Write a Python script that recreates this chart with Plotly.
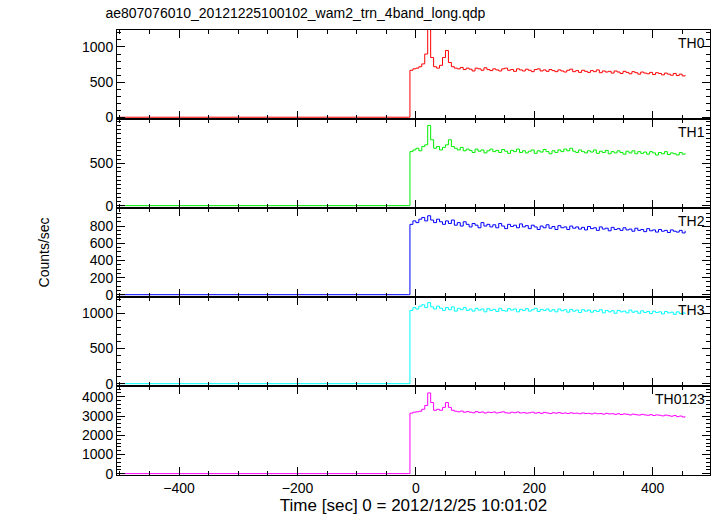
import numpy as np
import plotly.graph_objects as go
from plotly.subplots import make_subplots

# time bins (sec); the detector is off before ~-13 s
t_pre = [-500, -13]
t_on = list(np.arange(-10, 456, 5))

th0 = [670, 690, 700, 720, 760, 900, 1250, 850, 720, 700,
       740, 850, 950, 780, 720, 700, 690, 710, 680, 700,
       685, 660, 700, 690, 670, 705, 680, 665, 690, 675,
       660, 690, 700, 670, 680, 655, 690, 675, 660, 685,
       670, 650, 680, 690, 660, 675, 655, 680, 665, 650,
       675, 660, 645, 670, 685, 650, 665, 640, 670, 655,
       640, 665, 650, 675, 635, 660, 645, 655, 630, 660,
       645, 625, 655, 640, 620, 650, 635, 615, 645, 630,
       620, 640, 610, 635, 625, 605, 630, 615, 600, 625,
       595, 615, 590, 600]
th1 = [640, 660, 680, 650, 700, 720, 950, 780, 680, 700,
       660, 690, 720, 780, 700, 680, 660, 690, 650, 670,
       655, 630, 670, 645, 660, 625, 650, 670, 640, 655,
       630, 665, 645, 620, 655, 640, 670, 630, 650, 625,
       645, 660, 620, 650, 635, 665, 640, 615, 650, 630,
       660, 640, 670, 650, 680, 645, 630, 660, 640, 625,
       650, 635, 660, 620, 645, 630, 655, 615, 640, 625,
       650, 630, 610, 645, 625, 650, 615, 640, 620, 635,
       610, 640, 625, 600, 630, 615, 640, 605, 625, 615,
       600, 630, 610, 620]
th2 = [820, 860, 840, 880, 900, 860, 920, 870, 840, 880,
       850, 820, 860, 830, 870, 810, 840, 800, 850, 820,
       790, 830, 810, 780, 840, 800, 820, 790, 815, 780,
       830, 800, 770, 820, 795, 810, 780, 825, 790, 805,
       770, 810, 790, 760, 800, 780, 815, 775, 795, 760,
       805, 780, 790, 760, 800, 775, 790, 765, 785, 755,
       795, 770, 780, 750, 790, 765, 775, 745, 785, 760,
       770, 750, 780, 755, 765, 740, 775, 750, 760, 735,
       770, 745, 755, 730, 760, 740, 750, 725, 755, 740,
       730, 750, 720, 745]
th3 = [1040, 1080, 1060, 1100, 1120, 1080, 1150, 1090, 1060, 1100,
       1070, 1040, 1080, 1050, 1090, 1030, 1070, 1050, 1080, 1040,
       1060, 1030, 1070, 1045, 1060, 1020, 1065, 1040, 1055, 1025,
       1070, 1040, 1030, 1065, 1045, 1060, 1020, 1055, 1040, 1065,
       1030, 1050, 1070, 1025, 1055, 1040, 1060, 1030, 1050, 1020,
       1060, 1035, 1050, 1015, 1055, 1030, 1045, 1010, 1050, 1030,
       1045, 1015, 1040, 1025, 1050, 1005, 1040, 1020, 1035, 1000,
       1040, 1020, 1030, 1005, 1045, 1015, 1030, 1000, 1035, 1010,
       1025, 995, 1030, 1010, 1020, 990, 1025, 1005, 1015, 985,
       1020, 995, 1005, 990]
th0123 = [3150, 3200, 3220, 3250, 3350, 3550, 4200, 3700, 3300, 3350,
          3300, 3450, 3700, 3450, 3300, 3250, 3220, 3260, 3200, 3230,
          3200, 3170, 3230, 3190, 3210, 3160, 3200, 3180, 3210, 3160,
          3190, 3220, 3170, 3150, 3200, 3170, 3210, 3160, 3180, 3150,
          3170, 3200, 3150, 3180, 3140, 3190, 3160, 3130, 3170, 3150,
          3180, 3140, 3160, 3130, 3170, 3140, 3150, 3120, 3160, 3130,
          3140, 3110, 3150, 3120, 3130, 3100, 3140, 3110, 3120, 3090,
          3120, 3080, 3110, 3090, 3060, 3100, 3070, 3050, 3090, 3060,
          3040, 3070, 3030, 3060, 3040, 3010, 3050, 3020, 2990, 3030,
          2970, 3000, 2950, 2980]
pre_level = [5, 3, 2, 3, 12]

names = ['TH0', 'TH1', 'TH2', 'TH3', 'TH0123']
series = [th0, th1, th2, th3, th0123]
colors = ['#ff0000', '#00ee00', '#0000ff', '#00ffff', '#ff00ff']
yranges = [[-20, 1240], [-25, 1025], [-25, 1010], [-30, 1230], [-60, 4560]]
ytickv = [[0, 500, 1000], [0, 500], [0, 200, 400, 600, 800], [0, 500, 1000],
          [0, 1000, 2000, 3000, 4000]]

fig = make_subplots(rows=5, cols=1, shared_xaxes=True, vertical_spacing=0)
for i in range(5):
    x = t_pre + t_on
    y = [pre_level[i], pre_level[i]] + series[i]
    fig.add_trace(go.Scatter(x=x, y=y, mode='lines', line=dict(color=colors[i], width=1, shape='hv'),
                             showlegend=False), row=i + 1, col=1)
    fig.update_yaxes(range=yranges[i], tickvals=ytickv[i], row=i + 1, col=1)
    fig.add_annotation(text=names[i], xref='x domain', yref='y domain', x=0.995, y=0.97,
                       xanchor='right', yanchor='top', showarrow=False, font=dict(size=14),
                       row=i + 1, col=1)

ax = dict(showline=True, linecolor='black', linewidth=1, mirror='ticks', ticks='inside',
          ticklen=8, tickcolor='black', showgrid=False, zeroline=False,
          minor=dict(ticks='inside', ticklen=4, tickcolor='black'))
fig.update_xaxes(range=[-505, 497], dtick=200, **ax)
fig.update_yaxes(**ax)
fig.update_xaxes(title_text='Time [sec] 0 = 2012/12/25 10:01:02', title_standoff=2, row=5, col=1)
fig.add_annotation(text='Counts/sec', xref='paper', yref='paper', x=-0.14, y=0.5, textangle=-90,
                   showarrow=False, font=dict(size=14))
fig.update_layout(width=717, height=516, margin=dict(l=117, r=7, t=30, b=41),
                  plot_bgcolor='white', paper_bgcolor='white',
                  font=dict(family='Liberation Sans, Arial', size=14, color='black'),
                  title=dict(text='ae807076010_20121225100102_wam2_trn_4band_long.qdp',
                             x=0.147, xanchor='left', y=0.985, yanchor='top', font=dict(size=14)))
fig.write_html('out.html', config={'displayModeBar': False},
               post_script="document.body.style.margin='0';")
